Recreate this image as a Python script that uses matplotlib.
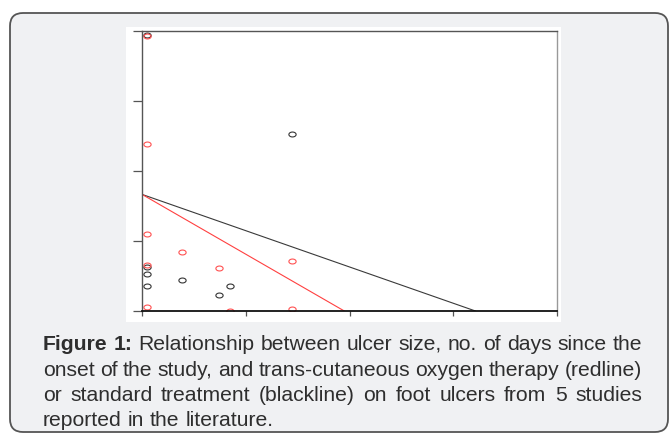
"""Ulcer size vs days since onset: TCOT (red) vs standard treatment (black)."""
import numpy as np
import matplotlib
matplotlib.use("Agg")
import matplotlib.pyplot as plt
from matplotlib.patches import FancyBboxPatch, Rectangle
from matplotlib.path import Path
from matplotlib.transforms import IdentityTransform

# data (x: days, y: ulcer size)
days_red = [0.9, 0.9, 0.9, 7.8, 0.9, 14.8, 28.9, 0.9, 16.9, 28.9]
size_red = [19.67, 11.93, 5.48, 4.19, 3.27, 3.05, 3.55, 0.27, 0.0, 0.17]
days_black = [0.9, 28.9, 0.9, 0.9, 0.9, 7.8, 16.9, 14.8]
size_black = [19.75, 12.64, 3.15, 2.67, 1.77, 2.19, 1.81, 1.12]
fit_red = (8.33, -0.2136)    # intercept, slope
fit_black = (8.33, -0.1296)
x_ticks = [0, 20, 40, 60, 80]
y_ticks = [0, 5, 10, 15, 20]

caption_lines = [
    "Figure 1: Relationship between ulcer size, no. of days since the",
    "onset of the study, and trans-cutaneous oxygen therapy (redline)",
    "or standard treatment (blackline) on foot ulcers from 5 studies",
    "reported in the literature.",
]

W, H = 671, 434
fig = plt.figure(figsize=(W / 100, H / 100), dpi=100)
fig.patch.set_facecolor("white")
px = IdentityTransform()

# card with rounded corners, white image area behind the plot
card = FancyBboxPatch((10, H - 432), 658, 419, boxstyle="round,pad=0,rounding_size=13",
                      transform=px, facecolor="#f0f1f3", edgecolor="#555555",
                      linewidth=1.3, zorder=-3)
fig.patches.append(card)
fig.patches.append(Rectangle((126, H - 322), 435, 295, transform=px,
                             facecolor="white", edgecolor="none", zorder=-2))

ax = fig.add_axes([142 / W, (H - 311) / H, 415 / W, 280 / H])
ax.set_facecolor("white")

# R-style open ellipse markers
t = np.linspace(0, 2 * np.pi, 41)
ell = Path(np.column_stack([np.cos(t), 0.68 * np.sin(t)]), closed=True)

ax.plot(days_black, size_black, linestyle="none", marker=ell, markersize=5.2,
        markerfacecolor="none", markeredgecolor="#333333", markeredgewidth=0.8)
ax.plot(days_red, size_red, linestyle="none", marker=ell, markersize=5.2,
        markerfacecolor="none", markeredgecolor="#ff5050", markeredgewidth=0.8)
ax.axline((0, fit_black[0]), slope=fit_black[1], color="#3a3a3a", linewidth=0.8)
ax.axline((0, fit_red[0]), slope=fit_red[1], color="#ff4040", linewidth=0.8)

ax.set_xlim(0, 80)
ax.set_ylim(0, 20)
ax.set_xticks(x_ticks)
ax.set_yticks(y_ticks)
ax.tick_params(axis="x", length=3.8, width=0.9, color="#555555", labelbottom=False)
ax.tick_params(axis="y", length=6.5, width=0.9, color="#555555", labelleft=False)
ax.spines["bottom"].set_color("#111111"); ax.spines["bottom"].set_linewidth(1.3)
ax.spines["left"].set_color("#555555"); ax.spines["left"].set_linewidth(1.0)
ax.spines["top"].set_color("#555555"); ax.spines["top"].set_linewidth(1.0)
ax.spines["right"].set_color("#999999"); ax.spines["right"].set_linewidth(1.0)

# justified caption, word by word
renderer = fig.canvas.get_renderer()
left, right = 43, 642
baselines = [350, 375.5, 401, 426]
fs = 15.2
for i, (line, yb) in enumerate(zip(caption_lines, baselines)):
    words = line.split(" ")
    texts = []
    for j, w in enumerate(words):
        bold = i == 0 and j < 2
        tx = fig.text(0, H - yb, w, transform=px, fontsize=fs, family="Liberation Sans",
                      fontweight="bold" if bold else "normal", color="#2e2e2e",
                      ha="left", va="baseline")
        texts.append(tx)
    widths = [tx.get_window_extent(renderer).width for tx in texts]
    if i < len(caption_lines) - 1:
        gap = (right - left - sum(widths)) / (len(words) - 1)
    else:
        sp = fig.text(0, 0, "a b", fontsize=fs, family="Liberation Sans")
        ab = fig.text(0, 0, "ab", fontsize=fs, family="Liberation Sans")
        gap = sp.get_window_extent(renderer).width - ab.get_window_extent(renderer).width
        sp.remove(); ab.remove()
    x = left
    for tx, w in zip(texts, widths):
        tx.set_x(x)
        x += w + gap

fig.savefig("out.png", dpi=100)
